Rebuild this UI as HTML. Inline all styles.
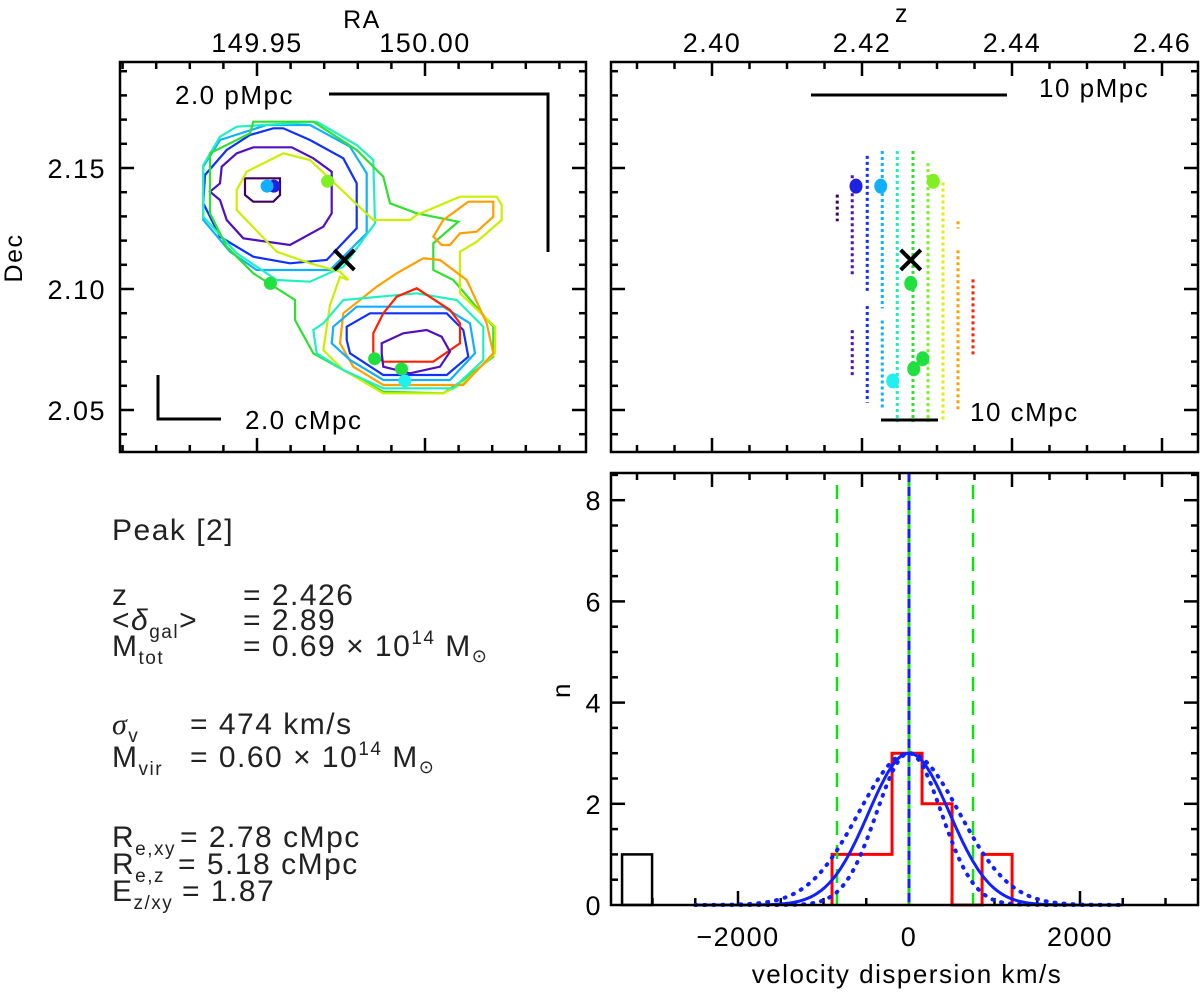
<!DOCTYPE html>
<html><head><meta charset="utf-8">
<style>
html,body{margin:0;padding:0;background:#fff;}
svg{display:block;font-family:"Liberation Sans",sans-serif;}
.info{font-size:30px;fill:#222;letter-spacing:1.5px;}
</style></head>
<body>
<svg id="fig" width="1200" height="992" viewBox="0 0 1200 992">
  <g id="tl"></g>
  <g id="tr"></g>
  <g id="br"></g>
  <g id="info">
    <text class="info" x="112" y="540">Peak [2]</text>
    <text class="info" x="112" y="605">z</text>
    <text class="info" x="243" y="605">= 2.426</text>
    <text class="info" x="112" y="630">&lt;<tspan font-style="italic">δ</tspan><tspan font-size="19" dy="8">gal</tspan><tspan dy="-8">&gt;</tspan></text>
    <text class="info" x="243" y="630">= 2.89</text>
    <text class="info" x="112" y="656">M<tspan font-size="19" dy="8">tot</tspan></text>
    <text class="info" x="243" y="656">= 0.69 × 10<tspan font-size="19" dy="-12">14</tspan><tspan dy="12"> M</tspan><tspan font-size="18" dy="6">⊙</tspan></text>
    <text class="info" x="112" y="734"><tspan font-style="italic" font-family="Liberation Serif">σ</tspan><tspan font-size="19" dy="8">v</tspan></text>
    <text class="info" x="190" y="734">= 474 km/s</text>
    <text class="info" x="112" y="767">M<tspan font-size="19" dy="8">vir</tspan></text>
    <text class="info" x="190" y="767">= 0.60 × 10<tspan font-size="19" dy="-12">14</tspan><tspan dy="12"> M</tspan><tspan font-size="18" dy="6">⊙</tspan></text>
    <text class="info" x="112" y="847">R<tspan font-size="19" dy="8">e,xy</tspan></text>
    <text class="info" x="180" y="847">= 2.78 cMpc</text>
    <text class="info" x="112" y="874">R<tspan font-size="19" dy="8">e,z</tspan></text>
    <text class="info" x="178" y="874">= 5.18 cMpc</text>
    <text class="info" x="112" y="901">E<tspan font-size="19" dy="8">z/xy</tspan></text>
    <text class="info" x="182" y="901">= 1.87</text>
  </g>
</svg>
<script>
// ---------- histogram data ----------
const binStarts = [-900, -549, -198, 153, 504, 855];
const binCounts = [1, 1, 3, 2, 0, 1];
const binWidth = 351;
const outlierStarts = [-3356];
const outlierCounts = [1];
const sigmaV = 474;
const sigmaLow = 380;
const sigmaHigh = 590;
const gaussPeak = 3;
const meanV = 0;
const dashedLimits = [-842, 749];
const velTicks = [-2000, 0, 2000];
const nTicks = [0, 2, 4, 6, 8];
// ---------- redshift panel data ----------
const zTicks = [2.40, 2.42, 2.44, 2.46];
const decTicks = [2.15, 2.10, 2.05];
const raTicks = [149.95, 150.00];
const sliceZ = [2.4167, 2.4187, 2.4207, 2.4227, 2.4247, 2.4268, 2.4288, 2.4308, 2.4328, 2.4348];
const sliceColors = ['#400060','#5010c0','#1030ff','#10b0ff','#20f0c0','#30e030','#80f020','#e0f000','#ffa000','#ff2000'];
const sliceDecTop = [[2.139,2.128],[2.147,2.064],[2.155,2.053],[2.157,2.050],[2.157,2.045],[2.157,2.045],[2.152,2.045],[2.144,2.045],[2.128,2.050],[2.104,2.073]];
const sliceGaps = [[null,null],[2.105,2.083],[2.098,2.093],[2.092,2.087],[null,null],[null,null],[null,null],[null,null],[2.125,2.116],[null,null]];
const galZ = [2.4192, 2.4225, 2.4295, 2.4265, 2.4281, 2.4269, 2.4241];
const galDec = [2.1425, 2.1425, 2.1445, 2.1023, 2.0712, 2.0670, 2.0620];
const galRA = [149.955, 149.953, 149.971, 149.954, 149.985, 149.993, 149.994];
const galColors = ['#2020e0','#10b0ff','#80f020','#20e040','#20e040','#20e040','#20f0f0'];
const centerZ = 2.4265, centerDec = 2.1120, centerRA = 149.976;

const NS='http://www.w3.org/2000/svg';
function mk(parent, tag, attrs, name){
  const e=document.createElementNS(NS,tag);
  for(const k in attrs) e.setAttribute(k,attrs[k]);
  
  
  parent.appendChild(e); return e;
}
function txt(parent,x,y,s,name,anchor,size,rot){
  const t=mk(parent,'text',{x:x,y:y,'text-anchor':anchor||'middle','font-size':size||27,'letter-spacing':1.5},name);
  if(rot) t.setAttribute('transform','rotate(-90 '+x+' '+y+')');
  t.textContent=s; return t;
}
function frame(g,x0,y0,x1,y1,name){
  mk(g,'rect',{x:x0,y:y0,width:x1-x0,height:y1-y0,fill:'none',stroke:'#000','stroke-width':2.5},name);
}
function tick(g,x1,y1,x2,y2){
  mk(g,'line',{x1:x1,y1:y1,x2:x2,y2:y2,stroke:'#000','stroke-width':2.5},'tick');
}

const decY = d => 289 + (2.10 - d) * 2420;
// ---------- top-left sky map ----------
const tl=document.getElementById('tl');
const raX = r => 257 + (r - 149.95) * 3360;
const L={x0:120,y0:62,x1:586,y1:452};
for(let k=-10;k<=20;k++){
  const r=149.95+k*0.01; const x=raX(r); if(x<=L.x0+1||x>=L.x1-1) continue;
  const len=(k%5===0)?14:7;
  tick(tl,x,L.y0,x,L.y0+len); tick(tl,x,L.y1,x,L.y1-len);
}
for(let d=2.03;d<=2.20;d+=0.01){
  const y=decY(d); if(y<=L.y0+1||y>=L.y1-1) continue;
  const maj=Math.abs(Math.round(d*100)%5)===0; const len=maj?14:7;
  tick(tl,L.x0,y,L.x0+len,y); tick(tl,L.x1,y,L.x1-len,y);
  if(maj) tick(document.getElementById('tr'),611,y,611+len,y), tick(document.getElementById('tr'),1198,y,1198-len,y);
}
raTicks.forEach(r=>txt(tl,raX(r),52,r.toFixed(2),'ra-tick-label'));
decTicks.forEach(d=>txt(tl,106,decY(d)+10,d.toFixed(2),'dec-tick-label','end'));
txt(tl,362,28,'RA','ra-axis-title','middle',25);
txt(tl,22,258,'Dec','dec-axis-title','middle',25,true);
const contours=[
 ['#400060',[[405,355],[510,355],[510,405],[490,425],[430,425],[405,405]]],
 ['#5010c0',[[430,262],[545,262],[610,295],[665,335],[665,460],[640,500],[540,555],[400,535],[350,480],[330,420],[300,395],[330,370],[335,320],[380,280]]],
 ['#1030ff',[[490,205],[520,205],[600,240],[700,295],[740,370],[740,505],[650,600],[540,610],[430,590],[330,530],[280,430],[285,345],[350,270],[420,225]]],
 ['#10b0ff',[[470,195],[600,195],[720,260],[770,340],[770,520],[660,630],[440,630],[360,575],[280,480],[280,320],[330,240]]],
 ['#20f0c0',[[380,200],[620,185],[740,255],[790,300],[795,490],[700,620],[600,665],[500,660],[380,580],[280,470],[280,315],[330,230]]],
 ['#30e030',[[430,185],[610,185],[740,270],[820,350],[840,430],[920,460],[1045,485],[970,550],[970,630],[1030,660],[1150,800],[1150,890],[1060,960],[1000,1000],[820,995],[700,930],[610,880],[555,780],[555,720],[430,640],[350,560],[300,460],[300,280],[420,220]]],
 ['#c8f000',[[410,335],[520,280],[600,300],[790,480],[900,480],[920,465],[1050,410],[1160,410],[1175,435],[1175,480],[1100,545],[1050,575],[1050,700],[1155,800],[1155,880],[1060,970],[1000,1000],[820,1000],[700,930],[640,870],[660,735],[690,650],[715,660],[690,635],[600,610],[500,575],[380,450],[380,390]]],
 ['#ffa000',[[800,680],[860,640],[940,595],[990,600],[1070,660],[1130,790],[1150,880],[1060,975],[820,975],[730,920],[690,850],[700,760]]],
 ['#ffa000',[[1000,480],[1075,425],[1150,425],[1150,470],[1100,515],[1050,520],[1020,555],[995,555],[970,530]]],
 ['#20f0c0',[[640,790],[700,720],[920,700],[1040,720],[1120,800],[1120,900],[1030,985],[820,985],[700,930],[620,880],[610,810]]],
 ['#10b0ff',[[670,800],[740,740],[1000,740],[1080,790],[1095,880],[1020,960],[820,960],[720,900],[665,850]]],
 ['#1030ff',[[710,800],[780,760],[1010,760],[1060,810],[1075,890],[1010,945],[820,945],[720,880],[710,840]]],
 ['#ff2000',[[790,820],[820,760],[860,710],[920,685],[1020,750],[1050,790],[1050,850],[970,905],[820,905],[790,880]]],
 ['#5010c0',[[815,850],[880,820],[950,810],[995,830],[1020,875],[990,920],[900,940],[820,920],[815,880]]]
];
contours.forEach(c=>{
  const pts=c[1].map(p=>(110+p[0]/3).toFixed(1)+','+(60+p[1]/3).toFixed(1)).join(' ');
  mk(tl,'polygon',{points:pts,fill:'none',stroke:c[0],'stroke-width':2.2},'density-contour');
});
for(let i=0;i<galRA.length;i++){
  mk(tl,'circle',{cx:raX(galRA[i]),cy:decY(galDec[i]),r:6.5,fill:galColors[i]},'galaxy-point');
}
function cross(g,x,y){
  mk(g,'path',{d:`M${x-10},${y-10}L${x+10},${y+10}M${x-10},${y+10}L${x+10},${y-10}`,stroke:'#000','stroke-width':4},'center-cross');
}
cross(tl,raX(centerRA),decY(centerDec));
mk(tl,'polyline',{points:'329,94 548,94 548,252',fill:'none',stroke:'#000','stroke-width':3},'pmpc-scale-bar');
txt(tl,175,104,'2.0 pMpc','pmpc-scale-label','start',26);
mk(tl,'polyline',{points:'158,375 158,419 221,419',fill:'none',stroke:'#000','stroke-width':3},'cmpc-scale-bar');
txt(tl,245,429,'2.0 cMpc','cmpc-scale-label','start',26);
frame(tl,L.x0,L.y0,L.x1,L.y1,'sky-map-frame');

// ---------- top-right redshift panel ----------
const tr=document.getElementById('tr');
const zX = z => 712 + (z - 2.40) * 7500;
const R={x0:611,y0:62,x1:1198,y1:452};
for(let k=-4;k<=20;k++){
  const z=2.39+k*0.005; const x=zX(z); if(x<=R.x0+1||x>=R.x1-1) continue;
  const maj=(k%4===2); const len=maj?14:7;
  tick(tr,x,R.y0,x,R.y0+len); tick(tr,x,R.y1,x,R.y1-len);
}
for(let d=2.03;d<=2.20;d+=0.01){
  const y=decY(d); if(y<=R.y0+1||y>=R.y1-1) continue;
  if(Math.round(d*100)%5!==0){tick(tr,R.x0,y,R.x0+7,y); tick(tr,R.x1,y,R.x1-7,y);}
}
zTicks.forEach(z=>txt(tr,zX(z),52,z.toFixed(2),'z-tick-label'));
txt(tr,902,22,'z','z-axis-title','middle',25);
sliceZ.forEach((z,i)=>{
  const x=zX(z); const top=decY(sliceDecTop[i][0]), bot=decY(sliceDecTop[i][1]);
  const segs=[]; const g=sliceGaps[i];
  if(g[0]===null) segs.push([top,bot]); else {segs.push([top,decY(g[0])]); segs.push([decY(g[1]),bot]);}
  segs.forEach(s=>mk(tr,'line',{x1:x,y1:s[0],x2:x,y2:s[1],stroke:sliceColors[i],'stroke-width':3,'stroke-dasharray':'3 3'},'slice-extent'));
});
for(let i=0;i<galZ.length;i++){
  mk(tr,'ellipse',{cx:zX(galZ[i]),cy:decY(galDec[i]),rx:6.5,ry:7.5,fill:galColors[i]},'galaxy-point');
}
cross(tr,zX(centerZ),decY(centerDec));
mk(tr,'line',{x1:811,y1:95,x2:1007,y2:95,stroke:'#000','stroke-width':3},'pmpc-scale-bar');
txt(tr,1039,97,'10 pMpc','pmpc-scale-label','start',26);
mk(tr,'line',{x1:881,y1:420,x2:938,y2:420,stroke:'#000','stroke-width':3},'cmpc-scale-bar');
txt(tr,970,421,'10 cMpc','cmpc-scale-label','start',26);
frame(tr,R.x0,R.y0,R.x1,R.y1,'redshift-frame');

// ---------- bottom-right histogram ----------
const br=document.getElementById('br');
const H={x0:611,y0:473,x1:1198,y1:905};
const vX = v => 909 + v * 0.0855;
const nY = n => 905 - n * 50.6;
for(let v=-3500;v<=3500;v+=500){
  const x=vX(v); if(x<=H.x0+1||x>=H.x1-1) continue;
  const len=(v%2000===0)?14:7; tick(br,x,H.y1,x,H.y1-len);
}
for(let k=-4;k<=20;k++){
  const x=zX(2.39+k*0.005); if(x<=H.x0+1||x>=H.x1-1) continue;
  tick(br,x,H.y0,x,H.y0+((k%4===2)?14:7));
}
for(let n=0;n<=8.5;n+=0.5){
  const y=nY(n); if(y<=H.y0+1||y>H.y1-1) continue;
  const len=(n%2===0)?14:7; tick(br,H.x0,y,H.x0+len,y); tick(br,H.x1,y,H.x1-len,y);
}
velTicks.forEach(v=>txt(br,vX(v),946,String(v).replace('-','−'),'velocity-tick-label'));
nTicks.forEach(n=>txt(br,602,nY(n)+10,String(n),'n-tick-label','end'));
txt(br,907,983,'velocity dispersion km/s','x-axis-title','middle',26);
txt(br,570,690,'n','y-axis-title','middle',26,true);
outlierStarts.forEach((s,i)=>{
  mk(br,'rect',{x:vX(s),y:nY(outlierCounts[i]),width:vX(s+binWidth)-vX(s),height:nY(0)-nY(outlierCounts[i]),fill:'none',stroke:'#000','stroke-width':2.5},'outlier-bin');
});
let d=`M${vX(binStarts[0])},${nY(0)}`;
binStarts.forEach((s,i)=>{ d+=`L${vX(s)},${nY(binCounts[i])}L${vX(s+binWidth)},${nY(binCounts[i])}`; });
d+=`L${vX(binStarts[binStarts.length-1]+binWidth)},${nY(0)}`;
mk(br,'path',{d:d,fill:'none',stroke:'#ff0000','stroke-width':3},'velocity-histogram');
dashedLimits.forEach(v=>mk(br,'line',{x1:vX(v),y1:nY(8.3),x2:vX(v),y2:nY(0),stroke:'#10e010','stroke-width':2.5,'stroke-dasharray':'14 10'},'sigma-limit-line'));
mk(br,'line',{x1:vX(meanV),y1:H.y0,x2:vX(meanV),y2:H.y1,stroke:'#10e010','stroke-width':3},'mean-velocity-line');
mk(br,'line',{x1:vX(meanV),y1:H.y0,x2:vX(meanV),y2:H.y1,stroke:'#1020ff','stroke-width':3,'stroke-dasharray':'9 5'},'mean-velocity-line-blue');
function gauss(sig,dash,name){
  let p='';
  for(let v=-2500;v<=2500;v+=25){
    const n=gaussPeak*Math.exp(-0.5*((v-meanV)/sig)**2);
    p+=(p?'L':'M')+vX(v).toFixed(1)+','+nY(n).toFixed(1);
  }
  const a={d:p,fill:'none',stroke:'#1020ff','stroke-width':3};
  if(dash){a['stroke-dasharray']='1 8';a['stroke-linecap']='round';a['stroke-width']=4;}
  mk(br,'path',a,name);
}
gauss(sigmaLow,true,'gaussian-narrow');
gauss(sigmaHigh,true,'gaussian-wide');
gauss(sigmaV,false,'gaussian-fit');
mk(br,'line',{x1:H.x0,y1:H.y1,x2:H.x1,y2:H.y1,stroke:'#800000','stroke-width':2},'zero-line');
frame(br,H.x0,H.y0,H.x1,H.y1,'histogram-frame');
</script>
</body></html>
